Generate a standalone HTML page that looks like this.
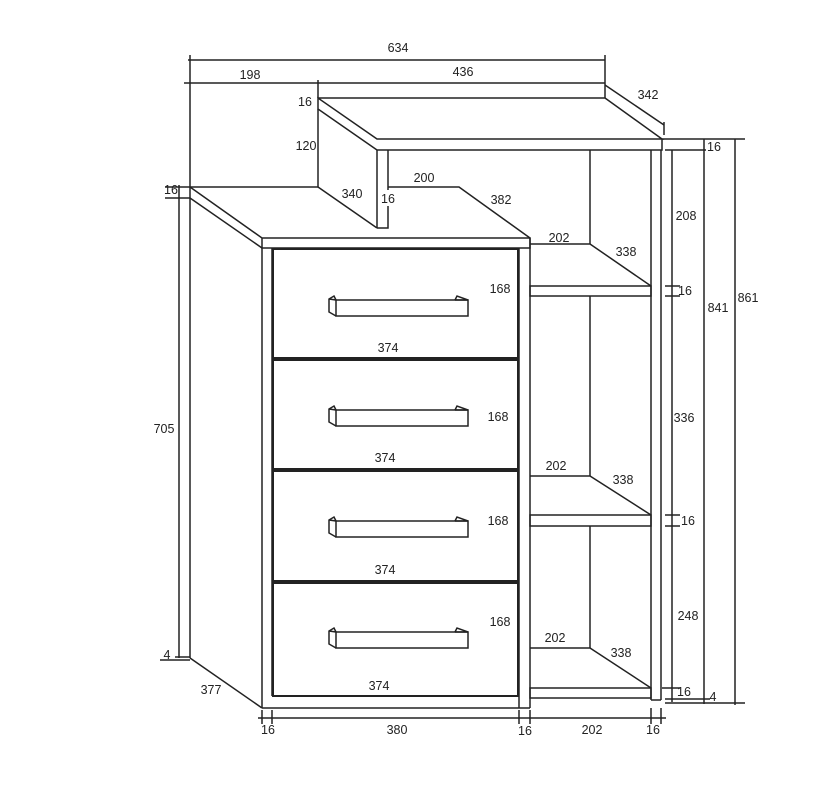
<!DOCTYPE html>
<html><head><meta charset="utf-8"><style>
html,body{margin:0;padding:0;background:#fff}
svg{display:block}
text{font-family:"Liberation Sans",sans-serif;font-size:12.5px;fill:#222}
</style></head><body>
<svg width="838" height="803" viewBox="0 0 838 803" xmlns="http://www.w3.org/2000/svg">
<defs>
<g id="h1" fill="none" stroke="#222" stroke-width="1.5">
<rect x="336" y="300" width="132" height="16"/>
<polyline points="336,316 329,312 329,299 334,296 336,300"/>
<line x1="329" y1="299" x2="336" y2="300"/>
<polyline points="455,300 457,296 468,300 455,300"/>
</g>
</defs>
<g fill="none" stroke="#222" stroke-width="1.5">
<line x1="188" y1="60" x2="605" y2="60"/>
<line x1="184" y1="83" x2="605" y2="83"/>
<line x1="190" y1="55" x2="190" y2="187"/>
<line x1="318" y1="80" x2="318" y2="98"/>
<line x1="605" y1="55" x2="605" y2="98"/>
<line x1="605" y1="85" x2="664" y2="125"/>
<line x1="664" y1="122" x2="664" y2="135"/>
<polyline points="318,98 605,98 662,139 377,139 318,98 318,109 377,150 662,150 662,139"/>
<line x1="318" y1="109" x2="318" y2="187"/>
<line x1="377" y1="150" x2="377" y2="228"/>
<polyline points="388,150 388,190"/>
<polyline points="388,206 388,228 377,228"/>
<line x1="318" y1="187" x2="377" y2="228"/>
<polyline points="388,187 459,187 530,238"/>
<polyline points="190,187 318,187"/>
<polyline points="190,187 262,238 530,238 530,248 262,248 262,238"/>
<line x1="190" y1="198" x2="262" y2="248"/>
<line x1="190" y1="187" x2="190" y2="658"/>
<line x1="190" y1="658" x2="262" y2="708"/>
<line x1="179" y1="185" x2="179" y2="658"/>
<line x1="165" y1="187" x2="190" y2="187"/>
<line x1="165" y1="198" x2="190" y2="198"/>
<line x1="160" y1="660" x2="190" y2="660"/>
<line x1="175" y1="657" x2="190" y2="657"/>
<line x1="262" y1="248" x2="262" y2="708"/>
<line x1="272" y1="248" x2="272" y2="696"/>
<line x1="262" y1="708" x2="530" y2="708"/>
<line x1="519" y1="248" x2="519" y2="708"/>
<line x1="530" y1="238" x2="530" y2="708"/>
<rect x="273" y="249" width="245" height="109" stroke-width="2"/>
<rect x="273" y="360" width="245" height="109" stroke-width="2"/>
<rect x="273" y="471" width="245" height="110" stroke-width="2"/>
<rect x="273" y="583" width="245" height="113" stroke-width="2"/>
<line x1="590" y1="150" x2="590" y2="244"/>
<polyline points="530,244 590,244 651,286"/>
<rect x="530" y="286" width="121" height="10"/>
<line x1="590" y1="296" x2="590" y2="476"/>
<polyline points="530,476 590,476 651,515"/>
<rect x="530" y="515" width="121" height="11"/>
<line x1="590" y1="526" x2="590" y2="648"/>
<polyline points="530,648 590,648 651,688"/>
<rect x="530" y="688" width="121" height="10"/>
<line x1="651" y1="150" x2="651" y2="700"/>
<line x1="661" y1="150" x2="661" y2="700"/>
<line x1="651" y1="700" x2="661" y2="700"/>
<line x1="662" y1="139" x2="745" y2="139"/>
<line x1="665" y1="150" x2="706" y2="150"/>
<line x1="672" y1="150" x2="672" y2="702"/>
<line x1="704" y1="139" x2="704" y2="704"/>
<line x1="735" y1="139" x2="735" y2="705"/>
<line x1="665" y1="286" x2="680" y2="286"/>
<line x1="665" y1="296" x2="680" y2="296"/>
<line x1="665" y1="515" x2="680" y2="515"/>
<line x1="665" y1="526" x2="680" y2="526"/>
<line x1="662" y1="688" x2="680" y2="688"/>
<line x1="665" y1="699" x2="710" y2="699"/>
<line x1="665" y1="703" x2="745" y2="703"/>
<line x1="258" y1="718" x2="666" y2="718"/>
<line x1="262" y1="710" x2="262" y2="724"/>
<line x1="272" y1="710" x2="272" y2="724"/>
<line x1="519" y1="710" x2="519" y2="724"/>
<line x1="530" y1="710" x2="530" y2="724"/>
<line x1="651" y1="708" x2="651" y2="724"/>
<line x1="661" y1="708" x2="661" y2="724"/>
</g>
<use href="#h1"/>
<use href="#h1" y="110"/>
<use href="#h1" y="221"/>
<use href="#h1" y="332"/>
<g text-anchor="middle">
<text x="398" y="52">634</text>
<text x="250" y="79">198</text>
<text x="463" y="76">436</text>
<text x="648" y="99">342</text>
<text x="305" y="106">16</text>
<text x="306" y="150">120</text>
<text x="352" y="198">340</text>
<text x="424" y="182">200</text>
<text x="388" y="203">16</text>
<text x="501" y="204">382</text>
<text x="171" y="194">16</text>
<text x="164" y="433">705</text>
<text x="167" y="659">4</text>
<text x="211" y="694">377</text>
<text x="559" y="242">202</text>
<text x="626" y="256">338</text>
<text x="500" y="293">168</text>
<text x="388" y="352">374</text>
<text x="714" y="151">16</text>
<text x="686" y="220">208</text>
<text x="685" y="295">16</text>
<text x="718" y="312">841</text>
<text x="748" y="302">861</text>
<text x="498" y="421">168</text>
<text x="385" y="462">374</text>
<text x="684" y="422">336</text>
<text x="556" y="470">202</text>
<text x="623" y="484">338</text>
<text x="498" y="525">168</text>
<text x="688" y="525">16</text>
<text x="385" y="574">374</text>
<text x="688" y="620">248</text>
<text x="500" y="626">168</text>
<text x="555" y="642">202</text>
<text x="621" y="657">338</text>
<text x="379" y="690">374</text>
<text x="684" y="696">16</text>
<text x="713" y="701">4</text>
<text x="268" y="734">16</text>
<text x="397" y="734">380</text>
<text x="525" y="735">16</text>
<text x="592" y="734">202</text>
<text x="653" y="734">16</text>
</g>
</svg>
</body></html>
